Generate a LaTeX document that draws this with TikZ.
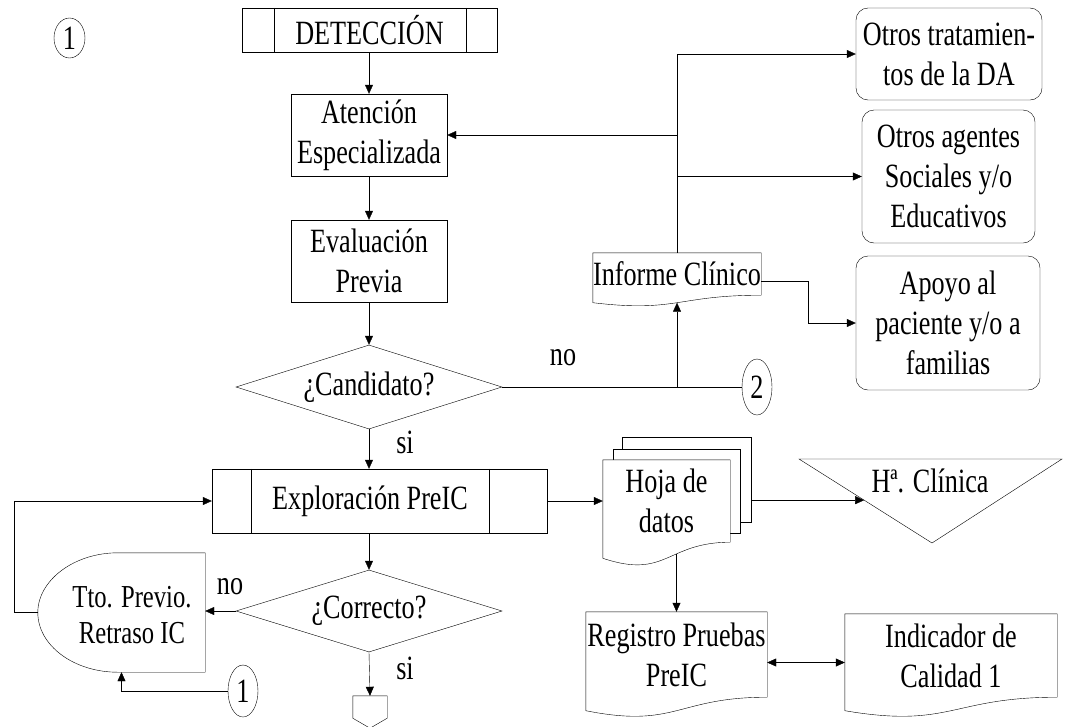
\documentclass[tikz,border=0pt]{standalone}
\usepackage{fontspec}
\setmainfont{Liberation Serif}[FakeStretch=0.77]
\usetikzlibrary{shapes.geometric,arrows.meta,calc,backgrounds}

% outline of a document symbol: straight top and sides, wavy bottom
\newcommand\wavydoc[2]{%
  \draw[fill=white] (#1.north west) -- (#1.north east) -- (#1.south east)
    .. controls (#1.south) and ([yshift=-3.5*#2]#1.south) ..
    ([yshift=-1.5*#2]#1.south west) -- cycle;}

\begin{document}
\begin{tikzpicture}[x=1pt,y=-1pt,line width=1.9pt,
  every node/.style={font=\fontsize{34}{40}\selectfont, inner sep=0pt, align=center},
  arr/.style={-{Triangle[length=9pt,width=8pt]}},
  dblarr/.style={{Triangle[length=9pt,width=8pt]}-{Triangle[length=9pt,width=8pt]}},
  box/.style={draw, rectangle},
  rbox/.style={draw, rectangle, rounded corners=12pt},
  decision/.style={draw, diamond, aspect=3.2},
  conn/.style={draw, ellipse},
  shapebox/.style={rectangle}]

\useasboundingbox (0,0) rectangle (1084,726);
\begin{pgfonlayer}{background}
  \fill[white] (0,0) rectangle (1084,726);
\end{pgfonlayer}

% ---- main column ----
\node[conn, minimum width=31pt, minimum height=40pt] (c1top) at (69.5,38) {1};
\node[box, minimum width=255pt, minimum height=44pt] (det) at (369.5,30) {DETECCIÓN};
\draw ([xshift=32pt]det.north west) -- ([xshift=32pt]det.south west);
\draw ([xshift=-31pt]det.north east) -- ([xshift=-31pt]det.south east);

\node[box, minimum width=156pt, minimum height=82pt] (att) at (369,135) {Atención\\Especializada};
\node[box, minimum width=156pt, minimum height=82pt] (eva) at (369,261) {Evaluación\\Previa};
\node[decision, minimum width=266pt, minimum height=84pt] (cand) at (369,387) {¿Candidato?};

\node[box, minimum width=335pt, minimum height=64pt] (explo) at (379.5,501) {};
\draw ([xshift=39pt]explo.north west) -- ([xshift=39pt]explo.south west);
\draw ([xshift=-58pt]explo.north east) -- ([xshift=-58pt]explo.south east);
\node (explotxt) at (370,501) {Exploración PreIC};

\node[decision, minimum width=266pt, minimum height=82pt] (corr) at (369,611) {¿Correcto?};

% delay-like box with rounded left side
\node[shapebox, minimum width=167pt, minimum height=119pt] (tto) at (121.5,612.5) {};
\begin{pgfonlayer}{background}
\draw[fill=white] ([xshift=80pt]tto.north west) -- (tto.north east) -- (tto.south east)
  -- ([xshift=80pt]tto.south west)
  .. controls ([xshift=36pt]tto.south west) and ([yshift=-33pt]tto.west) .. (tto.west)
  .. controls ([yshift=32pt]tto.west) and ([xshift=36pt]tto.north west) ..
  ([xshift=80pt]tto.north west);
\end{pgfonlayer}
\node[font=\fontsize{32}{36}\selectfont] (ttotxt) at (132,615) {Tto. Previo.\\Retraso IC};

\node[conn, minimum width=30pt, minimum height=52pt] (c1bot) at (243,691) {1};

% off-page connector
\node[shapebox, minimum width=34pt, minimum height=22pt] (off) at (370,707) {};
\draw (off.north west) -- (off.north east) -- (off.south east)
  -- ([yshift=-10pt]off.south) -- (off.south west) -- cycle;

% ---- right side ----
\node[shapebox, minimum width=168pt, minimum height=42pt] (inf) at (677,274) {Informe Clínico};
\node[rbox, minimum width=186pt, minimum height=92pt] (ot) at (949,54) {Otros tratamien-\\tos de la DA};
\node[rbox, minimum width=173pt, minimum height=133pt] (oa) at (948.5,176.5) {Otros agentes\\Sociales y/o\\Educativos};
\node[rbox, minimum width=184pt, minimum height=134pt] (ap) at (948,323) {Apoyo al\\paciente y/o a\\familias};
\node[conn, minimum width=30pt, minimum height=56pt] (c2) at (757,387) {2};

% multi-document
\node[shapebox, minimum width=129pt, minimum height=85pt] (hoja3) at (686.5,479.5) {};
\node[shapebox, minimum width=127pt, minimum height=84pt] (hoja2) at (676.5,491) {};
\node[shapebox, minimum width=127pt, minimum height=82pt] (hoja) at (666.5,501) {Hoja de\\datos};

% stored data (triangle)
\coordinate (hcL) at (799,459);
\coordinate (hcR) at (1062,459);
\coordinate (hcB) at (932,543);
\draw (hcL) -- (hcR) -- (hcB) -- cycle;
\node (hc) at (930,481) {Hª. Clínica};
\coordinate (hcE) at ($(hcL)!0.49!(hcB)$);

\node[shapebox, minimum width=181pt, minimum height=85pt] (reg) at (676.5,654.5) {Registro Pruebas\\PreIC};
\node[shapebox, minimum width=212pt, minimum height=83pt] (ind) at (951,655.5) {Indicador de\\Calidad 1};

\begin{pgfonlayer}{background}
  \draw[fill=white] (hoja3.north west) rectangle (hoja3.south east);
  \draw[fill=white] (hoja2.north west) rectangle (hoja2.south east);
  \wavydoc{hoja}{10.7pt}
  \wavydoc{inf}{5pt}
  \wavydoc{reg}{9pt}
  \wavydoc{ind}{9pt}
\end{pgfonlayer}

% ---- connectors ----
\draw[arr] (att.north |- det.south) -- (att.north);
\draw[arr] (att) -- (eva);
\draw[arr] (eva) -- (cand);
\draw[arr] (cand.south) -- (cand.south |- explo.north);
\node (si1) at (405,442) {si};

\draw (cand.east) -- (c2.west);
\node (no1) at (563,358) {no};
\coordinate (jn) at (inf.south |- cand.east);
\draw[arr] (jn) -- ([yshift=-7.5pt]inf.south);

\draw (inf.north) -- (inf.north |- ot.west);
\draw[arr] (inf.north |- ot.west) -- (ot.west);
\draw[arr] (inf.north |- att.east) -- (att.east);
\draw[arr] (inf.north |- oa.west) -- (oa.west);
\draw[arr] ([yshift=-7pt]inf.east) -- ++(47,0) |- (ap.west);

\draw[arr] (explo.east) -- (explo.east -| hoja.west);
\draw[arr] (hcE -| hoja3.east) -- (hcE);
\draw[arr] ([yshift=-12pt]hoja.south -| reg.north) -- (reg.north);
\draw[dblarr] ([yshift=-8pt]reg.east) -- ([yshift=-8pt]reg.east -| ind.west);

\draw[arr] (corr.north |- explo.south) -- (corr.north);
\draw[arr] (corr.west) -- (corr.west -| tto.east);
\node (no2) at (230,587) {no};
\draw[arr] (tto.west) -- ++(-24,0) |- (explo.west);
\draw[arr] (c1bot.west) -| (tto.south);
\draw[arr] (corr.south) -- (off.north);
\node (si2) at (405,668) {si};

\end{tikzpicture}
\end{document}
